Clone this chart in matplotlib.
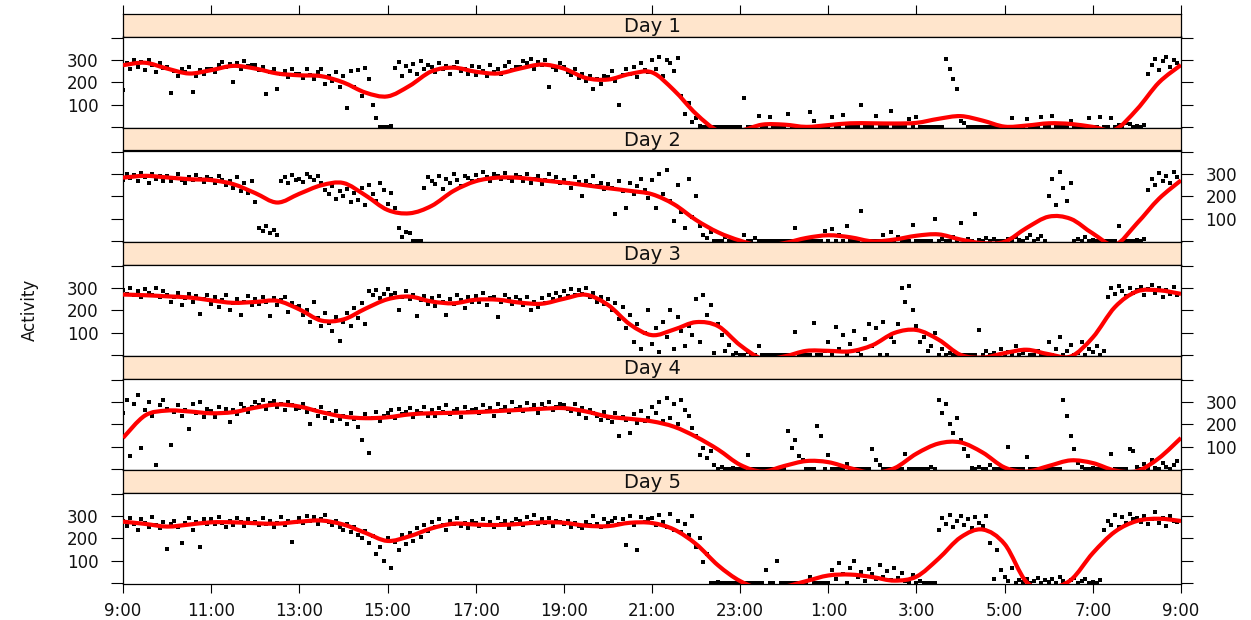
import matplotlib
matplotlib.use("Agg")
import matplotlib.pyplot as plt
from matplotlib.path import Path
from matplotlib.patches import PathPatch
import numpy as np

# ---------------------------------------------------------------- data
day_names = ["Day 1", "Day 2", "Day 3", "Day 4", "Day 5"]

# hours after 9:00 for the x ticks and their clock labels
tick_hours = list(range(0, 25, 2))
tick_labels = ["9:00", "11:00", "13:00", "15:00", "17:00", "19:00", "21:00",
               "23:00", "1:00", "3:00", "5:00", "7:00", "9:00"]
y_ticks = [0, 100, 200, 300, 400]
y_tick_labels = ["", "100", "200", "300", ""]

# activity counts every 5 minutes from 9:00 (one line per hour)
day1_activity = [
    165, 285, 262, 298, 270, 290, 255, 300, 278, 248, 285, 265,
    268, 155, 250, 230, 262, 245, 270, 158, 228, 255, 240, 262,
    262, 245, 278, 290, 268, 282, 200, 285, 260, 295, 272, 280,
    280, 255, 268, 150, 245, 262, 170, 238, 250, 225, 262, 240,
    240, 222, 258, 235, 215, 248, 262, 195, 230, 205, 245, 180,
    230, 86, 250, 180, 255, 140, 265, 215, 100, 40, 2, 0,
    0, 4, 265, 290, 230, 275, 250, 282, 240, 295, 262, 278,
    270, 245, 288, 260, 275, 240, 268, 292, 252, 262, 238, 275,
    235, 268, 250, 228, 280, 245, 262, 238, 275, 290, 255, 268,
    270, 295, 285, 305, 262, 290, 278, 300, 182, 268, 255, 285,
    270, 248, 232, 258, 218, 240, 205, 230, 172, 215, 195, 228,
    225, 250, 205, 100, 235, 262, 240, 270, 225, 285, 255, 248,
    300, 260, 315, 230, 300, 285, 250, 310, 140, 60, 110, 25,
    40, 5, 0, 0, 0, 0, 0, 0, 0, 0, 0, 0,
    0, 130, 0, 0, 0, 50, 0, 0, 45, 0, 0, 0,
    0, 60, 0, 0, 0, 0, 0, 70, 30, 0, 0, 0,
    0, 45, 0, 0, 55, 0, 0, 0, 0, 100, 0, 0,
    0, 50, 0, 0, 0, 75, 0, 0, 0, 0, 35, 0,
    45, 0, 0, 0, 0, 0, 0, 0, 305, 260, 215, 170,
    30, 20, 0, 0, 0, 0, 0, 0, 0, 0, 0, 0,
    0, 0, 40, 0, 0, 0, 35, 0, 0, 0, 45, 0,
    0, 50, 0, 0, 0, 0, 30, 0, 0, 0, 0, 40,
    0, 0, 45, 0, 0, 40, 0, 10, 0, 20, 15, 0,
    5, 0, 10, 240, 280, 305, 255, 295, 315, 270, 300, 285,
]
day2_activity = [
    275, 300, 282, 295, 270, 305, 288, 262, 298, 280, 292, 270,
    290, 268, 282, 300, 275, 260, 288, 272, 295, 280, 265, 285,
    280, 262, 290, 275, 250, 268, 240, 285, 225, 260, 215, 270,
    175, 60, 45, 70, 35, 50, 30, 270, 285, 260, 295, 275,
    280, 265, 300, 285, 272, 290, 262, 230, 210, 245, 190, 225,
    200, 235, 175, 215, 185, 240, 160, 250, 210, 180, 260, 230,
    165, 215, 150, 60, 20, 40, 35, 0, 0, 2, 240, 285,
    270, 255, 290, 235, 280, 262, 300, 275, 248, 290, 282, 270,
    295, 275, 310, 285, 268, 300, 290, 278, 305, 282, 270, 295,
    285, 270, 298, 262, 280, 290, 255, 275, 300, 268, 285, 260,
    275, 258, 240, 285, 265, 200, 270, 250, 290, 245, 262, 235,
    255, 240, 120, 270, 225, 150, 260, 210, 245, 280, 230, 195,
    275, 150, 300, 210, 320, 180, 90, 250, 130, 60, 280, 110,
    200, 70, 30, 15, 40, 0, 0, 0, 20, 0, 0, 0,
    0, 30, 0, 0, 15, 0, 0, 0, 0, 0, 0, 0,
    0, 0, 0, 60, 0, 0, 0, 0, 0, 0, 0, 45,
    0, 55, 0, 30, 0, 70, 0, 0, 0, 135, 0, 0,
    0, 0, 0, 30, 0, 40, 0, 20, 0, 0, 0, 75,
    0, 0, 0, 0, 0, 100, 0, 10, 0, 0, 20, 5,
    80, 0, 10, 0, 120, 5, 0, 15, 0, 10, 0, 0,
    0, 10, 0, 20, 5, 0, 15, 30, 0, 10, 25, 0,
    200, 280, 160, 310, 240, 180, 260, 0, 10, 0, 20, 0,
    5, 0, 0, 0, 0, 0, 0, 70, 0, 0, 0, 0,
    5, 0, 10, 230, 280, 250, 305, 270, 290, 260, 310, 285,
]
day3_activity = [
    290, 275, 300, 268, 285, 262, 295, 280, 270, 298, 260, 285,
    270, 240, 262, 280, 225, 255, 275, 240, 265, 185, 250, 270,
    230, 260, 215, 245, 270, 200, 235, 250, 180, 240, 265, 225,
    250, 230, 262, 240, 175, 255, 225, 245, 260, 195, 235, 215,
    220, 180, 200, 150, 240, 165, 130, 190, 145, 110, 170, 62,
    150, 190, 130, 210, 165, 235, 140, 285, 270, 290, 255, 275,
    295, 270, 280, 200, 260, 285, 250, 270, 175, 245, 265, 230,
    255, 220, 265, 240, 180, 250, 230, 270, 245, 210, 260, 240,
    265, 240, 280, 225, 255, 260, 170, 240, 270, 250, 230, 262,
    245, 225, 260, 200, 240, 215, 255, 235, 270, 250, 280, 260,
    285, 265, 295, 270, 290, 275, 300, 260, 280, 240, 262, 230,
    250, 200, 235, 160, 215, 120, 180, 60, 140, 30, 100, 200,
    50, 120, 15, 150, 80, 200, 30, 170, 110, 40, 130, 90,
    250, 60, 270, 180, 225, 10, 140, 90, 20, 45, 0, 10,
    0, 0, 15, 0, 0, 40, 0, 0, 0, 0, 0, 0,
    0, 0, 0, 105, 0, 0, 0, 0, 145, 0, 0, 20,
    60, 0, 125, 30, 90, 0, 50, 110, 20, 0, 75, 140,
    40, 120, 0, 150, 0, 80, 60, 140, 300, 240, 310, 200,
    130, 60, 80, 20, 40, 100, 0, 30, 0, 10, 0, 0,
    0, 0, 0, 0, 0, 115, 0, 20, 0, 10, 0, 30,
    0, 15, 0, 40, 0, 10, 25, 0, 0, 20, 0, 0,
    60, 0, 30, 80, 0, 20, 45, 0, 10, 60, 0, 30,
    15, 40, 0, 20, 260, 300, 275, 310, 285, 265, 300, 280,
    290, 305, 270, 295, 315, 280, 300, 260, 290, 275, 305, 270,
]
day4_activity = [
    250, 310, 60, 290, 330, 95, 265, 300, 240, 20, 285, 310,
    270, 110, 255, 285, 240, 265, 180, 290, 250, 300, 232, 270,
    260, 235, 280, 250, 270, 210, 265, 245, 290, 275, 255, 280,
    300, 285, 310, 270, 295, 305, 280, 290, 265, 300, 285, 270,
    275, 290, 255, 200, 265, 240, 280, 230, 250, 215, 260, 225,
    240, 200, 250, 225, 190, 130, 245, 73, 230, 255, 215, 240,
    250, 265, 230, 270, 245, 255, 275, 235, 260, 250, 280, 240,
    265, 240, 275, 255, 285, 245, 260, 270, 235, 280, 255, 265,
    270, 250, 285, 260, 275, 240, 290, 265, 280, 255, 300, 270,
    280, 260, 295, 270, 285, 250, 290, 275, 300, 265, 280, 290,
    285, 270, 260, 290, 245, 275, 230, 265, 250, 240, 220, 255,
    230, 210, 250, 150, 235, 220, 160, 245, 205, 260, 215, 230,
    280, 250, 300, 215, 320, 230, 290, 200, 310, 265, 240, 185,
    150, 65, 95, 50, 80, 20, 0, 10, 0, 0, 5, 0,
    0, 0, 65, 0, 0, 0, 0, 0, 0, 0, 0, 0,
    0, 170, 95, 130, 60, 40, 0, 0, 0, 195, 150, 0,
    65, 0, 0, 0, 0, 25, 0, 0, 0, 0, 0, 0,
    90, 40, 20, 0, 0, 0, 0, 0, 0, 70, 0, 0,
    0, 0, 0, 0, 10, 0, 310, 250, 290, 200, 160, 230,
    130, 90, 60, 5, 0, 10, 0, 0, 20, 0, 0, 0,
    0, 100, 0, 0, 0, 0, 55, 0, 0, 0, 0, 0,
    0, 0, 0, 0, 310, 240, 150, 90, 30, 10, 0, 0,
    5, 0, 0, 0, 0, 70, 0, 0, 0, 0, 90, 80,
    10, 0, 25, 0, 40, 5, 0, 30, 10, 0, 20, 35,
]
day5_activity = [
    280, 255, 290, 265, 240, 285, 270, 250, 295, 262, 245, 275,
    152, 265, 280, 250, 180, 270, 290, 240, 275, 160, 285, 265,
    285, 265, 295, 270, 250, 280, 260, 290, 275, 255, 285, 270,
    275, 260, 290, 265, 280, 250, 270, 295, 260, 280, 185, 275,
    290, 270, 300, 280, 295, 265, 285, 305, 275, 260, 280, 250,
    240, 265, 230, 250, 215, 200, 235, 180, 210, 130, 160, 100,
    200, 70, 185, 150, 215, 175, 225, 190, 245, 205, 260, 235,
    275, 250, 285, 260, 240, 280, 265, 290, 255, 270, 245, 280,
    270, 255, 285, 260, 275, 250, 290, 265, 280, 245, 270, 285,
    280, 260, 295, 275, 305, 265, 285, 270, 290, 255, 280, 275,
    265, 280, 250, 270, 255, 245, 275, 260, 300, 265, 250, 285,
    270, 280, 290, 265, 285, 170, 300, 260, 150, 295, 275, 285,
    290, 260, 305, 275, 250, 310, 240, 280, 230, 265, 215, 300,
    160, 200, 95, 130, 0, 0, 5, 0, 0, 0, 0, 0,
    0, 0, 0, 0, 0, 0, 0, 60, 0, 0, 100, 0,
    0, 0, 0, 0, 0, 0, 0, 30, 0, 0, 0, 0,
    0, 60, 20, 90, 40, 0, 70, 100, 30, 50, 10, 65,
    40, 20, 80, 30, 55, 15, 70, 25, 45, 10, 0, 35,
    0, 10, 0, 0, 0, 0, 240, 290, 265, 305, 250, 280,
    300, 260, 285, 245, 295, 270, 255, 300, 180, 20, 150, 60,
    30, 10, 70, 0, 15, 5, 20, 0, 10, 25, 0, 15,
    5, 20, 0, 30, 10, 0, 15, 25, 0, 10, 20, 0,
    5, 0, 15, 240, 280, 260, 305, 250, 295, 270, 310, 285,
    290, 275, 300, 265, 285, 320, 270, 290, 255, 300, 280, 275,
]

# smoothed trend at half-hour steps from 9:00 to 9:00 next day
day1_trend = [277, 288, 262, 240, 255, 274, 262, 240, 232, 228, 200, 155,
              138, 185, 250, 266, 248, 240, 262, 280, 262, 220, 213, 238,
              245, 165, 60, -15, -15, 12, 12, 2, 10, 18, 18, 17,
              20, 38, 50, 30, 3, 8, 18, 15, 2, -10, 80, 200, 278]
day2_trend = [284, 292, 285, 277, 273, 255, 215, 173, 212, 250, 260, 205,
              140, 125, 158, 225, 268, 284, 283, 272, 262, 250, 237, 225,
              210, 165, 95, 40, 3, -20, -8, 15, 27, 18, 0, 8,
              25, 31, 8, -8, -2, 60, 110, 100, 35, -15, 80, 190, 272]
day3_trend = [271, 268, 263, 258, 245, 234, 238, 243, 205, 155, 160, 208,
              250, 262, 240, 232, 248, 248, 235, 230, 252, 270, 225, 138,
              90, 115, 148, 130, 45, -15, -5, 20, 20, 18, 45, 100,
              113, 70, 2, -10, 10, 25, 5, -5, 80, 215, 285, 290, 274]
day4_trend = [140, 240, 262, 258, 250, 255, 275, 289, 280, 255, 235, 228,
              232, 245, 250, 252, 255, 260, 265, 270, 273, 258, 235, 225,
              214, 190, 145, 88, 20, -10, 15, 37, 32, 5, -15, 5,
              70, 115, 120, 75, 8, -10, 15, 40, 28, -5, -8, 50, 140]
day5_trend = [275, 265, 253, 262, 272, 272, 268, 266, 275, 280, 262, 225,
              189, 210, 245, 266, 262, 260, 265, 272, 270, 257, 255, 270,
              269, 240, 175, 80, 10, -25, -15, 10, 35, 39, 28, 12,
              30, 110, 205, 240, 175, 5, -20, 15, 135, 230, 278, 288, 278]

activity = [day1_activity, day2_activity, day3_activity, day4_activity, day5_activity]
trends = [day1_trend, day2_trend, day3_trend, day4_trend, day5_trend]

# ---------------------------------------------------------------- figure
W, H = 1251, 620
fig = plt.figure(figsize=(W / 100, H / 100), dpi=100)
fig.patch.set_facecolor("white")

LEFT, RIGHT = 123, 1181
TOP = 14
UNIT = 114
STRIP = 22.5
STRIP_COLOR = "#ffe5cc"
TEXT_COLOR = "#111111"
FONT = "DejaVu Sans"


def frac_box(x0, y0, x1, y1):
    return [x0 / W, 1 - y1 / H, (x1 - x0) / W, (y1 - y0) / H]


def smooth_path(x, y):
    """Cubic Bezier path through the given knots (Catmull-Rom tangents)."""
    pts = np.column_stack([x, y]).astype(float)
    n = len(pts)
    verts = [pts[0]]
    codes = [Path.MOVETO]
    for k in range(n - 1):
        p0 = pts[max(k - 1, 0)]
        p1 = pts[k]
        p2 = pts[k + 1]
        p3 = pts[min(k + 2, n - 1)]
        verts += [p1 + (p2 - p0) / 6.0, p2 - (p3 - p1) / 6.0, p2]
        codes += [Path.CURVE4] * 3
    return Path(verts, codes)


for i, name in enumerate(day_names):
    y_top = TOP + UNIT * i
    # strip with the day name
    sax = fig.add_axes(frac_box(LEFT, y_top, RIGHT, y_top + STRIP))
    sax.set_facecolor(STRIP_COLOR)
    sax.set_xlim(0, 24)
    sax.set_ylim(0, 1)
    sax.set_yticks([])
    if i == 0:
        sax.xaxis.set_ticks_position("top")
        sax.set_xticks(tick_hours)
        sax.set_xticklabels([])
        sax.tick_params(axis="x", direction="out", length=6.2, width=0.8,
                        color="black")
    else:
        sax.set_xticks([])
    sax.text(12, 0.46, name, ha="center", va="center", fontsize=14,
             family=FONT, color=TEXT_COLOR)
    for sp in sax.spines.values():
        sp.set_linewidth(0.9)

    # data panel
    pax = fig.add_axes(frac_box(LEFT, y_top + STRIP, RIGHT, y_top + UNIT))
    t_pts = np.arange(len(activity[i])) / 12.0
    t_trend = np.arange(len(trends[i])) / 2.0
    pax.plot(t_pts, activity[i], ls="none", marker="s", ms=2.2, mew=0,
             color="black", zorder=2)
    trend_patch = PathPatch(smooth_path(t_trend, trends[i]), fill=False,
                            edgecolor="#ff0000", lw=3.0, zorder=3,
                            capstyle="butt", joinstyle="round")
    pax.add_patch(trend_patch)
    pax.set_xlim(0, 24)
    pax.set_ylim(-3, 405)
    pax.set_yticks(y_ticks)
    pax.set_yticklabels(y_tick_labels)
    left_side = (i % 2 == 0)
    pax.tick_params(axis="y", left=True, right=True,
                    labelleft=left_side, labelright=not left_side,
                    direction="out", length=8.6, width=0.8, pad=9,
                    labelsize=12, labelcolor=TEXT_COLOR)
    if i == len(day_names) - 1:
        pax.set_xticks(tick_hours)
        pax.set_xticklabels(tick_labels)
        pax.tick_params(axis="x", direction="out", length=6.2, width=0.8,
                        pad=7, labelsize=12, labelcolor=TEXT_COLOR)
    else:
        pax.set_xticks([])
    for lab in pax.get_xticklabels() + pax.get_yticklabels():
        lab.set_family(FONT)
    for sp in pax.spines.values():
        sp.set_linewidth(0.9)

fig.text(30 / W, 0.5, "Activity", rotation=90, ha="center", va="center",
         fontsize=12, family=FONT, color=TEXT_COLOR)

fig.savefig("out.png", dpi=100, facecolor="white")
